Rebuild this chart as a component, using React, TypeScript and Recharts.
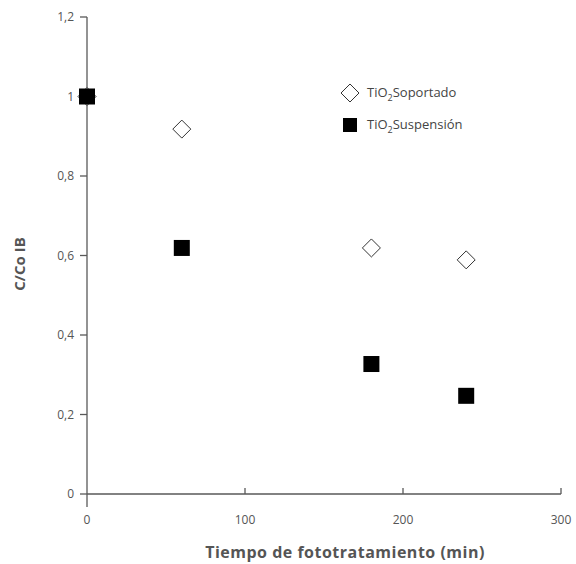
import React from 'react';
import { Scatter, ScatterChart, XAxis, YAxis } from 'recharts';

// Tiempo (min) and C/Co
const times = [0, 60, 180, 240];
const soportado = [1, 0.918, 0.619, 0.589];
const suspension = [1, 0.619, 0.327, 0.247];

const xTicks = [0, 100, 200, 300];
const yTicks = [0, 0.2, 0.4, 0.6, 0.8, 1, 1.2];

const seriesNames = ['Soportado', 'Suspensión'];
const xTitle = 'Tiempo de fototratamiento (min)';
const yTitle = 'C/Co IB';

const soportadoData = times.map((t, i) => ({ x: t, y: soportado[i] }));
const suspensionData = times.map((t, i) => ({ x: t, y: suspension[i] }));

const axisColor = '#595959';
const textColor = '#555';
const font = '"Open Sans", sans-serif';

// hollow diamond marker
const Diamond = (props: any) => {
    const { cx, cy } = props;
    const r = 9;
    return (
        <polygon
            points={`${cx - r},${cy} ${cx},${cy - r} ${cx + r},${cy} ${cx},${cy + r}`}
            fill="#fff"
            stroke="#333"
            strokeWidth={1}
        />
    );
};

// solid square marker
const Square = (props: any) => {
    const { cx, cy } = props;
    const s = 16;
    return <rect x={cx - s / 2} y={cy - s / 2} width={s} height={s} fill="#000" />;
};

// x ticks point inward, the 0 one runs down past the axis
const XTick = (props: any) => {
    const { x, y, payload } = props;
    const v = payload.value;
    return (
        <g>
            {v === 0 ? (
                <line x1={x} y1={y} x2={x} y2={y + 13} stroke={axisColor} strokeWidth={1.3} />
            ) : (
                <line x1={x} y1={y} x2={x} y2={y - 6} stroke={axisColor} strokeWidth={1.3} />
            )}
            <text x={x} y={y + 30} textAnchor="middle" fontSize={12} fill={textColor} fontFamily={font}>
                {v}
            </text>
        </g>
    );
};

// legend sits inside the plot, drawn as plain html over the chart
const ChartLegend = () => (
    <div style={{ position: 'absolute', left: 339, top: 77, fontFamily: font, fontSize: 13, color: '#444' }}>
        {seriesNames.map((name, i) => (
            <div key={name} style={{ display: 'flex', alignItems: 'center', height: 32 }}>
                <svg width={22} height={22} style={{ marginRight: 6 }}>
                    {i === 0 ? (
                        <polygon points="2,11 11,2 20,11 11,20" fill="#fff" stroke="#333" strokeWidth={1} />
                    ) : (
                        <rect x={4} y={4} width={14} height={14} fill="#000" />
                    )}
                </svg>
                <span>
                    TiO<sub style={{ fontSize: 9 }}>2</sub>{name}
                </span>
            </div>
        ))}
    </div>
);

export default function App() {
    return (
        <div style={{ position: 'absolute', left: 0, top: 0, width: 576, height: 564, background: '#fff' }}>
            <ScatterChart width={576} height={564} margin={{ top: 17, right: 15, bottom: 40, left: 27 }}>
                <XAxis
                    type="number"
                    dataKey="x"
                    domain={[0, 300]}
                    ticks={xTicks}
                    stroke={axisColor}
                    strokeWidth={1.3}
                    tickLine={false}
                    tickSize={0}
                    tickMargin={0}
                    height={30}
                    tick={<XTick />}
                    label={(p: any) => {
                        const vb = p.viewBox;
                        return (
                            <text
                                x={vb.x + vb.width / 2 + 21}
                                y={558}
                                textAnchor="middle"
                                fontSize={16}
                                letterSpacing={0.5}
                                fontWeight="bold"
                                fill={textColor}
                                fontFamily={font}
                            >
                                {xTitle}
                            </text>
                        );
                    }}
                />
                <YAxis
                    type="number"
                    dataKey="y"
                    domain={[0, 1.2]}
                    ticks={yTicks}
                    width={60}
                    stroke={axisColor}
                    strokeWidth={1.3}
                    tickSize={7}
                    tickMargin={6}
                    tick={{ fontSize: 12, fill: textColor, fontFamily: font }}
                    tickFormatter={(v: number) => String(v).replace('.', ',')}
                    label={() => (
                        <text
                            x={25}
                            y={264}
                            transform="rotate(-90 25 264)"
                            textAnchor="middle"
                            fontSize={15}
                            fontWeight="bold"
                            fill={textColor}
                            fontFamily={font}
                        >
                            {yTitle}
                        </text>
                    )}
                />
                <Scatter name={seriesNames[0]} data={soportadoData} shape={<Diamond />} isAnimationActive={false} />
                <Scatter name={seriesNames[1]} data={suspensionData} shape={<Square />} isAnimationActive={false} />
            </ScatterChart>
            <ChartLegend />
        </div>
    );
}
